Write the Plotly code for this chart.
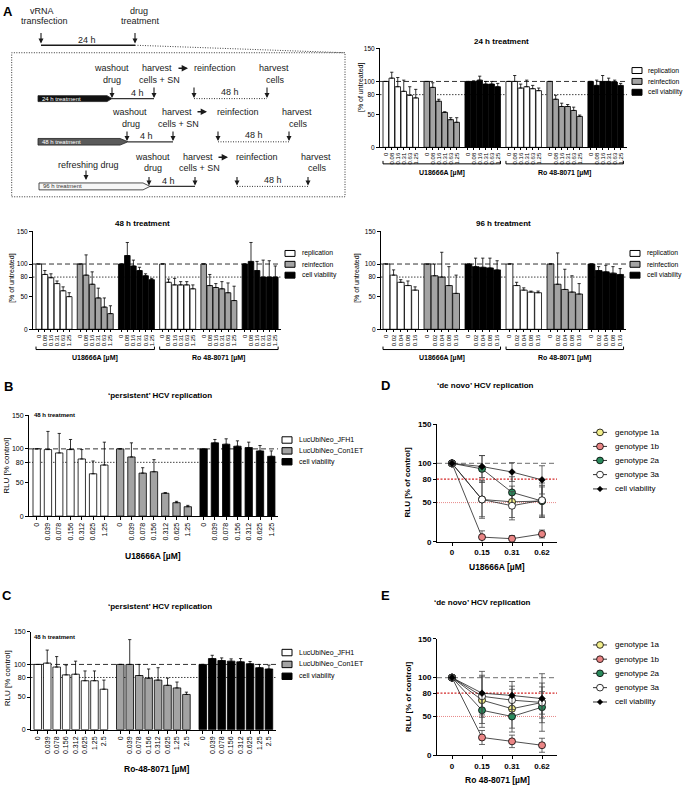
import plotly.graph_objects as go

W, H = 690, 793
FONT = "Liberation Sans, Arial, Helvetica, sans-serif"

# ======================= DATA =======================
# ---- Panel A (values in % of untreated) ----
conc_24h = ["0", "0.08", "0.16", "0.31", "0.63", "1.25"]
conc_48h = ["0", "0.08", "0.16", "0.31", "0.63", "1.25"]
conc_96h = ["0", "0.02", "0.04", "0.08", "0.16"]
drugs_A = ["U18666A [µM]", "Ro 48-8071 [µM]"]
series_A = ["replication", "reinfection", "cell viability"]

u18_rep_24 = [100, 105, 92, 85, 79, 75]
u18_rep_24_err = [0, 9, 14, 17, 13, 13]
u18_reinf_24 = [100, 91, 70, 53, 42, 38]
u18_reinf_24_err = [0, 7, 3, 1, 3, 7]
u18_via_24 = [100, 100, 102, 96, 96, 92]
u18_via_24_err = [0, 1, 6, 4, 4, 5]
ro_rep_24 = [100, 100, 90, 92, 89, 86]
ro_rep_24_err = [0, 9, 6, 10, 5, 4]
ro_reinf_24 = [100, 73, 62, 62, 56, 47]
ro_reinf_24_err = [0, 6, 5, 3, 5, 2]
ro_via_24 = [100, 94, 100, 100, 99, 94]
ro_via_24_err = [0, 8, 9, 5, 3, 3]

u18_rep_48 = [100, 84, 79, 70, 59, 50]
u18_rep_48_err = [0, 6, 6, 4, 6, 6]
u18_reinf_48 = [100, 83, 69, 48, 34, 24]
u18_reinf_48_err = [0, 31, 19, 15, 14, 12]
u18_via_48 = [100, 113, 97, 90, 82, 76]
u18_via_48_err = [0, 20, 9, 5, 3, 2]
ro_rep_48 = [100, 72, 68, 68, 68, 62]
ro_rep_48_err = [0, 5, 10, 5, 5, 6]
ro_reinf_48 = [100, 67, 64, 62, 56, 44]
ro_reinf_48_err = [0, 17, 6, 11, 15, 22]
ro_via_48 = [100, 104, 90, 80, 80, 80]
ro_via_48_err = [0, 29, 14, 26, 25, 17]

u18_rep_96 = [100, 83, 72, 67, 60]
u18_rep_96_err = [0, 8, 4, 7, 5]
u18_reinf_96 = [100, 82, 80, 67, 55]
u18_reinf_96_err = [0, 18, 38, 29, 28]
u18_via_96 = [100, 96, 95, 94, 91]
u18_via_96_err = [0, 13, 14, 15, 14]
ro_rep_96 = [100, 67, 60, 57, 56]
ro_rep_96_err = [0, 5, 3.5, 1.5, 2.5]
ro_reinf_96 = [100, 69, 61, 57, 54]
ro_reinf_96_err = [0, 48, 31, 25, 16]
ro_via_96 = [100, 90, 88, 86, 84]
ro_via_96_err = [0, 6, 10, 10, 9]

# ---- Panels B / C (RLU, % control) ----
series_BC = ["LucUbiNeo_JFH1", "LucUbiNeo_Con1ET", "cell viability"]
conc_B = ["0", "0.039", "0.078", "0.156", "0.312", "0.625", "1.25"]
jfh1_B = [100, 99, 94, 99, 85, 63, 76]
jfh1_B_err = [0, 27, 29, 15, 14, 19, 34]
con1_B = [100, 88, 64, 66, 34, 20, 14]
con1_B_err = [0, 21, 8, 18, 1, 2, 2]
via_B = [100, 109, 107, 104, 102, 97, 89]
via_B_err = [0, 5, 8, 8, 8, 8, 8]

conc_C = ["0", "0.039", "0.078", "0.156", "0.312", "0.625", "1.25", "2.5"]
jfh1_C = [100, 102, 96, 84, 85, 75, 75, 62]
jfh1_C_err = [0, 20, 16, 15, 20, 15, 15, 14]
con1_C = [100, 100, 83, 79, 76, 68, 64, 54]
con1_C_err = [0, 38, 17, 14, 19, 11, 9, 3.5]
via_C = [100, 109, 106, 105, 104, 101, 95, 93]
via_C_err = [0, 5, 4, 3.5, 5, 3.5, 5, 6]

# ---- Panels D / E (RLU, % of control) ----
series_DE = ["genotype 1a", "genotype 1b", "genotype 2a", "genotype 3a", "cell viability"]
conc_DE = ["0", "0.15", "0.31", "0.62"]
gt1a_D = [100, 54, 51, 52]
gt1a_D_err = [0, 22, 20, 20]
gt1b_D = [100, 6, 4, 10]
gt1b_D_err = [0, 8, 4, 5]
gt2a_D = [100, 93, 63, 52]
gt2a_D_err = [0, 17, 20, 18]
gt3a_D = [100, 54, 46, 53]
gt3a_D_err = [0, 24, 18, 22]
via_D = [100, 96, 89, 79]
via_D_err = [2, 14, 12, 18]

gt1a_E = [100, 71, 60, 68]
gt1a_E_err = [0, 30, 25, 20]
gt1b_E = [100, 23, 18, 13]
gt1b_E_err = [0, 9, 8, 9]
gt2a_E = [100, 58, 50, 62]
gt2a_E_err = [0, 22, 20, 20]
gt3a_E = [100, 76, 71, 68]
gt3a_E_err = [0, 27, 18, 37]
via_E = [100, 80, 77, 73]
via_E_err = [3, 28, 18, 20]

y_ticks = [0, 50, 80, 100, 150]

# ======================= STYLE =======================
WHITE, GRAY, BLACK = "#ffffff", "#a3a3a3", "#000000"
GT_COLORS = ["#f3ef8c", "#ea8585", "#2a8a5c", "#ffffff", "#000000"]


def px(x):
    return x / W


def py(y):
    return 1 - y / H


fig = go.Figure()
shapes, annotations = [], []
layout = dict(width=W, height=H, margin=dict(l=0, r=0, t=0, b=0),
              paper_bgcolor="white", plot_bgcolor="white", barmode="overlay",
              showlegend=False, font=dict(family=FONT, color="black"))


def an(n):
    return "" if n == 1 else str(n)


def text(x, y, s, size=9, bold=False, color="#1a1a1a", xanchor="center", angle=0):
    annotations.append(dict(x=px(x), y=py(y), xref="paper", yref="paper", text=s,
                            showarrow=False, xanchor=xanchor, yanchor="middle",
                            textangle=angle, borderpad=0,
                            font=dict(family=FONT, size=size, color=color,
                                      weight="bold" if bold else "normal")))


def arrow(x, y, ax, ay, w=1.1):
    annotations.append(dict(x=px(x), y=py(y), xref="paper", yref="paper", text="",
                            showarrow=True, ax=ax, ay=ay, arrowhead=2, arrowsize=0.9,
                            arrowwidth=w, arrowcolor="#1a1a1a", standoff=0))


def line(x0, y0, x1, y1, color="#1a1a1a", width=1, dash="solid"):
    shapes.append(dict(type="line", xref="paper", yref="paper", x0=px(x0), y0=py(y0),
                       x1=px(x1), y1=py(y1), line=dict(color=color, width=width, dash=dash)))


def axis_style(size, bold=False, ticklen=3):
    return dict(showline=True, linecolor="black", linewidth=1, ticks="outside",
                tickcolor="black", tickwidth=1, ticklen=ticklen, showgrid=False,
                zeroline=False, fixedrange=True,
                tickfont=dict(family=FONT, size=size, color="black",
                              weight="bold" if bold else "normal"))


def ref_lines(n, specs):
    for yv, color, width, dash in specs:
        shapes.append(dict(type="line", xref="x" + an(n) + " domain", yref="y" + an(n),
                           x0=0, x1=1, y0=yv, y1=yv, layer="below",
                           line=dict(color=color, width=width, dash=dash)))


def bar_panel(n, geo, conc, groups, xfont=6, yfont=6.5, xticklen=2):
    p, w, G = geo["pitch"], geo["w"], geo["G"]
    xmin = -w / 2 - (geo["L"] - geo["A"]) / p
    xmax = xmin + (geo["R"] - geo["A"]) / p
    tv, tt, spans = [], [], []
    for g, (vals, errs, color) in enumerate(groups):
        xs = [g * G + i for i in range(len(vals))]
        fig.add_trace(go.Bar(
            x=xs, y=vals, width=w, hoverinfo="skip",
            marker=dict(color=color, line=dict(color="black", width=0.8)),
            error_y=dict(type="data", symmetric=False, array=errs,
                         arrayminus=[0] * len(errs), color="black", thickness=0.8, width=1.6),
            xaxis="x" + an(n), yaxis="y" + an(n)))
        tv += xs
        tt += conc
        spans.append((xs[0] - w / 2, xs[-1] + w / 2))
    xa = axis_style(xfont, ticklen=xticklen)
    xa.update(domain=[px(geo["A"]), px(geo["R"])], range=[xmin, xmax],
              anchor="y" + an(n), tickvals=tv, ticktext=tt, tickangle=-90)
    ya = axis_style(yfont)
    ya.update(domain=[py(geo["bot"]), py(geo["top"])], range=[0, 150],
              anchor="x" + an(n), tickvals=y_ticks)
    layout["xaxis" + an(n)] = xa
    layout["yaxis" + an(n)] = ya
    ref_lines(n, [(100, "#333333", 1, "5px,3px"), (80, "#444444", 1, "1.5px,1.5px")])
    return spans


def brackets(n, spans, ybr, ylab, labels):
    for k, lab in enumerate(labels):
        x0, x1 = spans[3 * k][0], spans[3 * k + 2][1]
        shapes.append(dict(type="line", xref="x" + an(n), yref="paper", x0=x0, x1=x1,
                           y0=py(ybr), y1=py(ybr), line=dict(color="black", width=1)))
        for xe in (x0, x1):
            shapes.append(dict(type="line", xref="x" + an(n), yref="paper", x0=xe, x1=xe,
                               y0=py(ybr), y1=py(ybr - 3), line=dict(color="black", width=1)))
        annotations.append(dict(x=(x0 + x1) / 2, y=py(ylab), xref="x" + an(n), yref="paper",
                                text=lab, showarrow=False, xanchor="center", yanchor="middle",
                                font=dict(family=FONT, size=7, color="black", weight="bold")))


def box_legend(xb, xt, rows, names, colors, size=7, bw=10, bh=6):
    for yr, nm, c in zip(rows, names, colors):
        shapes.append(dict(type="rect", xref="paper", yref="paper", x0=px(xb), x1=px(xb + bw),
                           y0=py(yr + bh / 2), y1=py(yr - bh / 2), fillcolor=c,
                           line=dict(color="black", width=1)))
        text(xt, yr, nm, size=size, color="black", xanchor="left")


def line_panel(n, geo, conc, series):
    for vals, errs, color, sym, size in series:
        fig.add_trace(go.Scatter(
            x=list(range(len(vals))), y=vals, mode="lines+markers", hoverinfo="skip",
            line=dict(color="#222222", width=0.8),
            marker=dict(symbol=sym, size=size, color=color, line=dict(color="black", width=0.8)),
            error_y=dict(type="data", array=errs, color="#444444", thickness=0.8, width=3),
            xaxis="x" + an(n), yaxis="y" + an(n)))
    xa = axis_style(8, bold=True)
    xa.update(domain=[px(geo["A"]), px(geo["R"])], range=[-0.5, len(conc) - 0.5],
              anchor="y" + an(n), tickvals=list(range(len(conc))), ticktext=conc)
    ya = axis_style(8, bold=True)
    ya.update(domain=[py(geo["bot"]), py(geo["top"])], range=[0, 150],
              anchor="x" + an(n), tickvals=y_ticks)
    layout["xaxis" + an(n)] = xa
    layout["yaxis" + an(n)] = ya
    ref_lines(n, [(100, "#8a8a8a", 1.2, "5px,3px"), (80, "#d42a2a", 1.2, "2px,1.5px"),
                  (50, "#e06a6a", 0.8, "1px,1px")])


def marker_legend(rows, names, colors):
    for k, (yr, nm, c) in enumerate(zip(rows, names, colors)):
        line(593, yr, 607, yr, color="#333333", width=1)
        if k < 4:
            r = 3.4
            shapes.append(dict(type="circle", xref="paper", yref="paper",
                               x0=px(600 - r), x1=px(600 + r), y0=py(yr + r), y1=py(yr - r),
                               fillcolor=c, line=dict(color="black", width=0.8)))
        else:
            d = 2.8
            path = (f"M {px(600)},{py(yr - d)} L {px(600 + d)},{py(yr)} "
                    f"L {px(600)},{py(yr + d)} L {px(600 - d)},{py(yr)} Z")
            shapes.append(dict(type="path", xref="paper", yref="paper", path=path,
                               fillcolor="black", line=dict(color="black", width=0.5)))
        text(614, yr, nm, size=8, color="black", xanchor="left")


# ======================= PANEL A : schematic =======================
text(8, 8, "A", size=13, bold=True, color="black")
text(42, 7, "vRNA")
text(44, 17.5, "transfection")
text(139, 7, "drug")
text(140, 17.5, "treatment")
arrow(41, 40, 0, -12)
arrow(135, 40, 0, -12)
line(41, 41.7, 135, 41.7, width=1.3)
text(87, 36, "24 h")
line(135, 41.7, 345, 49.3, color="#444", width=1, dash="1px,1.5px")
shapes.append(dict(type="rect", xref="paper", yref="paper", x0=px(11.7), x1=px(345),
                   y0=py(195), y1=py(49.3), line=dict(color="#333", width=1, dash="1px,1.5px")))


def pent(x0, xb, xt, y0, y1, fill, label, tcolor):
    ym = (y0 + y1) / 2
    path = (f"M {px(x0)},{py(y0)} L {px(xb)},{py(y0)} L {px(xt)},{py(ym)} "
            f"L {px(xb)},{py(y1)} L {px(x0)},{py(y1)} Z")
    shapes.append(dict(type="path", xref="paper", yref="paper", path=path, fillcolor=fill,
                       line=dict(color="#222", width=0.8)))
    text(x0 + 3, ym, label, size=6, color=tcolor, xanchor="left")


# row 1 (24 h treatment)
pent(38, 107, 112, 92.7, 98.7, "#111111", "24 h treatment", "white")
line(112, 95.7, 154, 95.7, color="#333", width=1.2)
line(194, 95.7, 267, 95.7, color="#333", width=1, dash="1px,1.5px")
text(112, 65, "washout"); text(112, 77, "drug")
text(157, 65, "harvest"); text(159, 77, "cells + SN")
arrow(188, 65, -11, 0, w=1.4)
text(215, 65, "reinfection")
text(274, 65, "harvest"); text(275, 77, "cells")
text(137, 90.5, "4 h"); text(230, 89, "48 h")
for xa_ in (112, 154, 194, 267):
    arrow(xa_, 95, 0, -12)

# row 2 (48 h treatment)
pent(38, 120, 128, 136, 142.7, "#5a5a5a", "48 h treatment", "white")
line(128, 139.4, 173, 139.4, color="#333", width=1.2)
line(218, 139.4, 289, 139.4, color="#333", width=1, dash="1px,1.5px")
text(129, 109, "washout"); text(131, 121, "drug")
text(177, 109, "harvest"); text(178, 121, "cells + SN")
arrow(207, 109, -11, 0, w=1.4)
text(238, 109, "reinfection")
text(297, 109, "harvest"); text(298, 121, "cells")
text(146, 134, "4 h"); text(254, 132.5, "48 h")
for xa_ in (127, 173, 218, 289):
    arrow(xa_, 138.5, 0, -11)

# row 3 (96 h treatment)
pent(39, 143, 150, 181, 188, "#f7f7f7", "96 h treatment", "#333")
line(150, 184.5, 195, 184.5, color="#333", width=1.2)
line(237, 184.5, 308, 184.5, color="#333", width=1, dash="1px,1.5px")
text(88, 162.5, "refreshing drug")
arrow(86, 178, 0, -11)
text(152, 155, "washout"); text(153, 166, "drug")
text(198, 155, "harvest"); text(199, 166, "cells + SN")
arrow(228, 155, -11, 0, w=1.4)
text(257, 155, "reinfection")
text(316, 155, "harvest"); text(317, 166, "cells")
text(168, 179, "4 h"); text(273, 178, "48 h")
for xa_ in (149, 195, 237, 308):
    arrow(xa_, 183.5, 0, -10)

# ======================= PANEL A : bar charts =======================
GEO = {
    "24": dict(A=380, R=627, top=45, bot=145, L=383, pitch=6.0, w=0.92, G=6.83),
    "48": dict(A=33, R=281, top=230, bot=329, L=36, pitch=6.08, w=0.92, G=6.78),
    "96": dict(A=381, R=626, top=230, bot=329, L=383, pitch=7.17, w=0.95, G=5.72),
    "B": dict(A=29, R=278, top=416, bot=518, L=33, pitch=11.28, w=0.65, G=7.4),
    "C": dict(A=31, R=276, top=635, bot=734, L=34, pitch=9.45, w=0.8, G=8.73),
    "D": dict(A=437, R=557, top=425, bot=544),
    "E": dict(A=437, R=557, top=642, bot=760),
}
A_COLORS = [WHITE, GRAY, BLACK]

sp = bar_panel(1, GEO["24"], conc_24h, [
    (u18_rep_24, u18_rep_24_err, WHITE), (u18_reinf_24, u18_reinf_24_err, GRAY),
    (u18_via_24, u18_via_24_err, BLACK), (ro_rep_24, ro_rep_24_err, WHITE),
    (ro_reinf_24, ro_reinf_24_err, GRAY), (ro_via_24, ro_via_24_err, BLACK)])
brackets(1, sp, 161.7, 171, drugs_A)
text(502, 38, "24 h treatment", size=8, bold=True, color="black")
text(361, 85, "[% of untreated]", size=7, color="black", angle=-90)
box_legend(632, 647, [67.3, 78.3, 89.3], series_A, A_COLORS, size=6.8)

sp = bar_panel(2, GEO["48"], conc_48h, [
    (u18_rep_48, u18_rep_48_err, WHITE), (u18_reinf_48, u18_reinf_48_err, GRAY),
    (u18_via_48, u18_via_48_err, BLACK), (ro_rep_48, ro_rep_48_err, WHITE),
    (ro_reinf_48, ro_reinf_48_err, GRAY), (ro_via_48, ro_via_48_err, BLACK)])
brackets(2, sp, 349.5, 358.5, drugs_A)
text(142, 222, "48 h treatment", size=8, bold=True, color="black")
text(12, 278, "[% of untreated]", size=7, color="black", angle=-90)
box_legend(285, 301, [252.3, 263.3, 274.3], series_A, A_COLORS, size=6.8)

sp = bar_panel(3, GEO["96"], conc_96h, [
    (u18_rep_96, u18_rep_96_err, WHITE), (u18_reinf_96, u18_reinf_96_err, GRAY),
    (u18_via_96, u18_via_96_err, BLACK), (ro_rep_96, ro_rep_96_err, WHITE),
    (ro_reinf_96, ro_reinf_96_err, GRAY), (ro_via_96, ro_via_96_err, BLACK)])
brackets(3, sp, 349.5, 358.5, drugs_A)
text(503, 222, "96 h treatment", size=8, bold=True, color="black")
text(357, 278, "[% of untreated]", size=7, color="black", angle=-90)
box_legend(630, 646, [252.3, 263.3, 274.3], series_A, A_COLORS, size=6.8)

# ======================= PANEL B =======================
text(8, 387, "B", size=13, bold=True, color="black")
text(160, 396, "‘persistent’ HCV replication", size=8, bold=True, color="black")
bar_panel(4, GEO["B"], conc_B, [(jfh1_B, jfh1_B_err, WHITE), (con1_B, con1_B_err, GRAY),
                                 (via_B, via_B_err, BLACK)], xfont=7, yfont=7, xticklen=3)
text(33, 416, "48 h treatment", size=6, bold=True, color="black", xanchor="left")
text(7, 467, "RLU [% control]", size=8, color="black", angle=-90)
text(153, 558, "U18666A [µM]", size=8.5, bold=True, color="black")
box_legend(282, 298, [441, 452, 463], series_BC, A_COLORS, bh=6.5)

# ======================= PANEL C =======================
text(7, 598, "C", size=13, bold=True, color="black")
text(160, 609, "‘persistent’ HCV replication", size=8, bold=True, color="black")
bar_panel(5, GEO["C"], conc_C, [(jfh1_C, jfh1_C_err, WHITE), (con1_C, con1_C_err, GRAY),
                                 (via_C, via_C_err, BLACK)], xfont=7, yfont=7, xticklen=3)
text(33, 640, "48 h treatment", size=6, bold=True, color="black", xanchor="left")
text(7, 682, "RLU [% control]", size=8, color="black", angle=-90)
text(157, 774, "Ro-48-8071 [µM]", size=8.5, bold=True, color="black")
box_legend(282, 298, [656, 668, 680], series_BC, A_COLORS, bh=6.5)

# ======================= PANEL D =======================
text(386, 386, "D", size=13, bold=True, color="black")
text(485, 386, "‘de novo’ HCV replication", size=8, bold=True, color="black")
line_panel(6, GEO["D"], conc_DE, [
    (gt1a_D, gt1a_D_err, GT_COLORS[0], "circle", 7),
    (gt1b_D, gt1b_D_err, GT_COLORS[1], "circle", 7),
    (gt2a_D, gt2a_D_err, GT_COLORS[2], "circle", 7),
    (gt3a_D, gt3a_D_err, GT_COLORS[3], "circle", 7),
    (via_D, via_D_err, GT_COLORS[4], "diamond", 5)])
text(408, 484, "RLU [% of control]", size=8, bold=True, color="black", angle=-90)
text(497, 569, "U18666A [µM]", size=8.5, bold=True, color="black")
marker_legend([433.3, 447.5, 461.7, 476, 490.5], series_DE, GT_COLORS)

# ======================= PANEL E =======================
text(386, 598, "E", size=13, bold=True, color="black")
text(483, 605, "‘de novo’ HCV replication", size=8, bold=True, color="black")
line_panel(7, GEO["E"], conc_DE, [
    (gt1a_E, gt1a_E_err, GT_COLORS[0], "circle", 7),
    (gt1b_E, gt1b_E_err, GT_COLORS[1], "circle", 7),
    (gt2a_E, gt2a_E_err, GT_COLORS[2], "circle", 7),
    (gt3a_E, gt3a_E_err, GT_COLORS[3], "circle", 7),
    (via_E, via_E_err, GT_COLORS[4], "diamond", 5)])
text(408, 701, "RLU [% of control]", size=8, bold=True, color="black", angle=-90)
text(497, 785, "Ro 48-8071 [µM]", size=8.5, bold=True, color="black")
marker_legend([648.3, 662.7, 677, 691.5, 706], series_DE, GT_COLORS)

fig.update_layout(**layout, shapes=shapes, annotations=annotations)
fig.write_html("out.html", config=dict(displayModeBar=False),
               post_script="document.body.style.margin='0px';document.body.style.overflow='hidden';")
